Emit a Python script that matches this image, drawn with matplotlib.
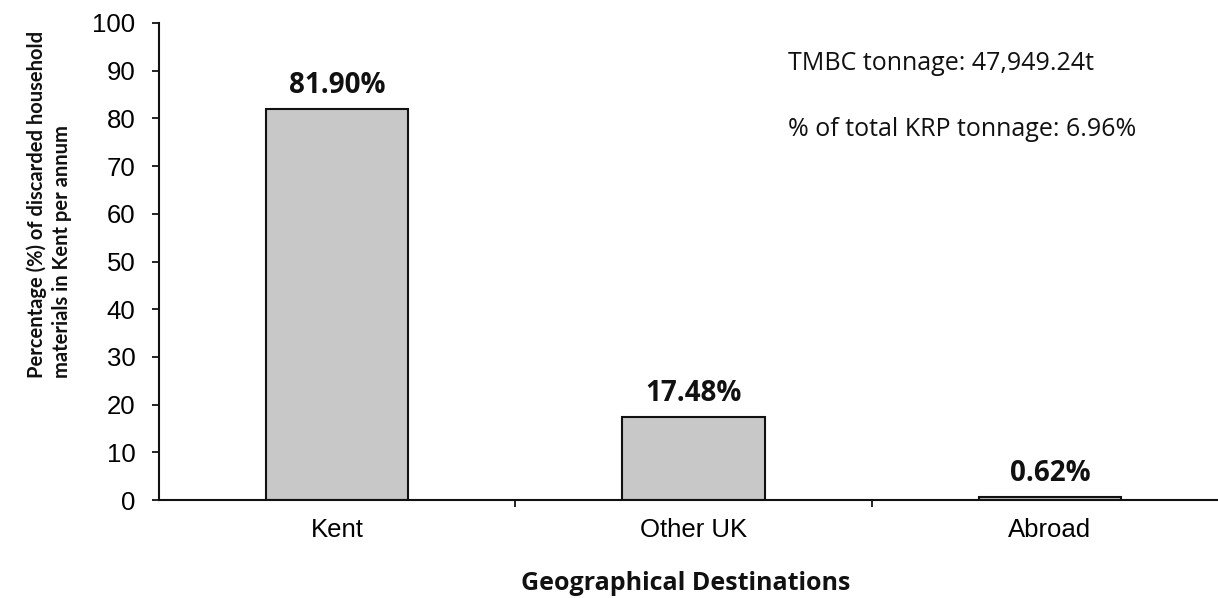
import matplotlib
matplotlib.use("Agg")
import matplotlib.pyplot as plt
import numpy as np

categories = ["Kent", "Other UK", "Abroad"]
values = [81.90, 17.48, 0.62]
value_labels = ["81.90%", "17.48%", "0.62%"]
yticks = [0, 10, 20, 30, 40, 50, 60, 70, 80, 90, 100]
notes = ["TMBC tonnage: 47,949.24t", "% of total KRP tonnage: 6.96%"]

W, H = 1218, 598
fig = plt.figure(figsize=(W / 100, H / 100), dpi=100)
fig.patch.set_facecolor("white")

x0, x1 = 159, 1228
y0, y1 = 500, 23
ax = fig.add_axes([x0 / W, (H - y0) / H, (x1 - x0) / W, (y0 - y1) / H])

x = np.arange(len(categories))
ax.bar(x, values, width=0.40, color="#c8c8c8", edgecolor="#111111", linewidth=1.5, zorder=2)

ax.set_xlim(-0.5, 2.5)
ax.set_ylim(0, 100)
ax.set_yticks(yticks)
ax.set_yticklabels([str(v) for v in yticks], fontfamily="Liberation Sans", fontsize=18.5)
ax.tick_params(axis="y", direction="out", length=5, width=1.2, pad=12)

ax.set_xticks(x)
ax.set_xticklabels(categories, fontfamily="Liberation Sans", fontsize=18.5)
ax.tick_params(axis="x", which="major", length=0, pad=13)
ax.set_xticks([0.5, 1.5], minor=True)
ax.tick_params(axis="x", which="minor", direction="out", length=5, width=1.2)

for s in ["top", "right"]:
    ax.spines[s].set_visible(False)
ax.spines["left"].set_linewidth(1.5)
ax.spines["bottom"].set_linewidth(1.5)
ax.spines["left"].set_color("#111111")
ax.spines["bottom"].set_color("#111111")

for xi, v, lab in zip(x, values, value_labels):
    ax.annotate(lab, (xi, v), xytext=(0, 9), textcoords="offset pixels",
                ha="center", va="bottom", fontfamily="Open Sans", fontweight="bold",
                fontsize=20, color="#111111")

fig.text(788 / W, (H - 63) / H, notes[0], ha="left", va="center",
         fontfamily="Open Sans", fontsize=18, color="#111111")
fig.text(788 / W, (H - 129) / H, notes[1], ha="left", va="center",
         fontfamily="Open Sans", fontsize=18, color="#111111")

fig.text(686 / W, (H - 584) / H, "Geographical Destinations", ha="center", va="center",
         fontfamily="Open Sans", fontweight="bold", fontsize=18, color="#111111")

fig.text(49 / W, (H - 378) / H,
         "Percentage (%) of discarded household\nmaterials in Kent per annum",
         rotation=90, ha="center", va="bottom", multialignment="left",
         fontfamily="Lato", fontweight="bold", fontsize=14.5, color="#111111",
         linespacing=1.3)

fig.savefig("out.png", dpi=100, facecolor="white")
